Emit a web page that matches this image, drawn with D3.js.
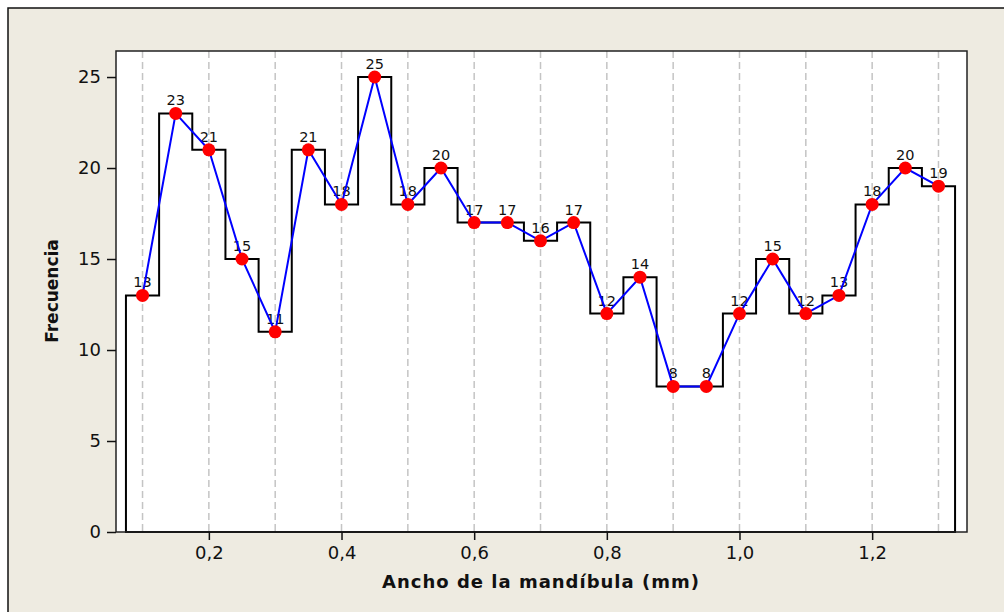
<!DOCTYPE html>
<html lang="es">
<head>
<meta charset="UTF-8">
<title>Frecuencia - Ancho de la mandíbula</title>
<script src="https://cdn.jsdelivr.net/npm/d3@7"></script>
<style>
  html, body { margin: 0; padding: 0; background: #ffffff; }
  svg { display: block; }
</style>
</head>
<body>
<div id="container"></div>
<script>
// class midpoints (mm) and counts
var midpoints = [0.10, 0.15, 0.20, 0.25, 0.30, 0.35, 0.40, 0.45, 0.50, 0.55, 0.60, 0.65, 0.70,
                 0.75, 0.80, 0.85, 0.90, 0.95, 1.00, 1.05, 1.10, 1.15, 1.20, 1.25, 1.30];
var counts = [13, 23, 21, 15, 11, 21, 18, 25, 18, 20, 17, 17, 16,
              17, 12, 14, 8, 8, 12, 15, 12, 13, 18, 20, 19];
var binWidth = 0.05;
var xTicks = [0.2, 0.4, 0.6, 0.8, 1.0, 1.2];
var gridLines = [0.1, 0.2, 0.3, 0.4, 0.5, 0.6, 0.7, 0.8, 0.9, 1.0, 1.1, 1.2, 1.3];
var yTicks = [0, 5, 10, 15, 20, 25];

var width = 1004, height = 612;
// plot area edges ("top" is taken on window, so other names)
var plotL = 116, plotT = 51, plotR = 967, plotB = 532;

var data = midpoints.map(function(m, i) { return {x: m, y: counts[i]}; });

var svg = d3.select("#container").append("svg")
    .attr("width", width)
    .attr("height", height);

// outer panel
svg.append("rect")
    .attr("x", 8).attr("y", 8)
    .attr("width", width + 10).attr("height", height + 10)
    .attr("fill", "#eeebe1")
    .attr("stroke", "#111")
    .attr("stroke-width", 1.5);

var x = d3.scaleLinear().domain([0.06, 1.343]).range([plotL, plotR]);
var y = d3.scaleLinear().domain([0, 26.43]).range([plotB, plotT]);

// plot area
svg.append("rect")
    .attr("x", plotL).attr("y", plotT)
    .attr("width", plotR - plotL).attr("height", plotB - plotT)
    .attr("fill", "#ffffff");

// dashed reference lines
svg.append("g").selectAll("line")
    .data(gridLines)
    .join("line")
    .attr("x1", function(d) { return x(d); })
    .attr("x2", function(d) { return x(d); })
    .attr("y1", plotT)
    .attr("y2", plotB)
    .attr("stroke", "#c4c4c4")
    .attr("stroke-width", 1.5)
    .attr("stroke-dasharray", "7,4");

// histogram as a step outline
var last = data[data.length - 1];
var steps = [{x: data[0].x - binWidth / 2, y: 0}]
    .concat(data.map(function(d) { return {x: d.x - binWidth / 2, y: d.y}; }))
    .concat([{x: last.x + binWidth / 2, y: last.y}, {x: last.x + binWidth / 2, y: 0}]);

var stepLine = d3.line()
    .x(function(d) { return x(d.x); })
    .y(function(d) { return y(d.y); })
    .curve(d3.curveStepAfter);

svg.append("path")
    .datum(steps)
    .attr("d", function(d) { return stepLine(d) + "Z"; })
    .attr("fill", "none")
    .attr("stroke", "#000")
    .attr("stroke-width", 2);

// frame
svg.append("rect")
    .attr("x", plotL).attr("y", plotT)
    .attr("width", plotR - plotL).attr("height", plotB - plotT)
    .attr("fill", "none")
    .attr("stroke", "#222")
    .attr("stroke-width", 1.5);

// axes
var fmt = function(d) { return d3.format(".1f")(d).replace(".", ","); };

var xAxis = svg.append("g")
    .attr("transform", "translate(0," + plotB + ")")
    .call(d3.axisBottom(x).tickValues(xTicks).tickFormat(fmt).tickSize(8).tickPadding(6));
xAxis.select(".domain").remove();

var yAxis = svg.append("g")
    .attr("transform", "translate(" + plotL + ",0)")
    .call(d3.axisLeft(y).tickValues(yTicks).tickSize(9).tickPadding(6));
yAxis.select(".domain").remove();

svg.selectAll(".tick text")
    .attr("font-family", "DejaVu Sans, Verdana, sans-serif")
    .attr("font-size", 18)
    .attr("fill", "#111");
svg.selectAll(".tick line")
    .attr("stroke", "#111")
    .attr("stroke-width", 1.5);

// value labels
svg.append("g").selectAll("text")
    .data(data)
    .join("text")
    .attr("x", function(d) { return x(d.x); })
    .attr("y", function(d) { return y(d.y) - 8; })
    .attr("text-anchor", "middle")
    .attr("font-family", "DejaVu Sans, Verdana, sans-serif")
    .attr("font-size", 14.5)
    .attr("fill", "#111")
    .text(function(d) { return d.y; });

// frequency polygon
var line = d3.line()
    .x(function(d) { return x(d.x); })
    .y(function(d) { return y(d.y); });

svg.append("path")
    .datum(data)
    .attr("d", line)
    .attr("fill", "none")
    .attr("stroke", "#0000ff")
    .attr("stroke-width", 2);

svg.append("g").selectAll("circle")
    .data(data)
    .join("circle")
    .attr("cx", function(d) { return x(d.x); })
    .attr("cy", function(d) { return y(d.y); })
    .attr("r", 6.5)
    .attr("fill", "#ff0000");

// axis titles
svg.append("text")
    .attr("x", 541)
    .attr("y", 588)
    .attr("text-anchor", "middle")
    .attr("font-family", "DejaVu Sans, Verdana, sans-serif")
    .attr("font-weight", "bold")
    .attr("font-size", 18)
    .attr("letter-spacing", 1)
    .attr("fill", "#111")
    .text("Ancho de la mandíbula (mm)");

svg.append("text")
    .attr("transform", "translate(58,291) rotate(-90)")
    .attr("text-anchor", "middle")
    .attr("font-family", "DejaVu Sans, Verdana, sans-serif")
    .attr("font-weight", "bold")
    .attr("font-size", 17)
    .attr("fill", "#111")
    .text("Frecuencia");
</script>
</body>
</html>
